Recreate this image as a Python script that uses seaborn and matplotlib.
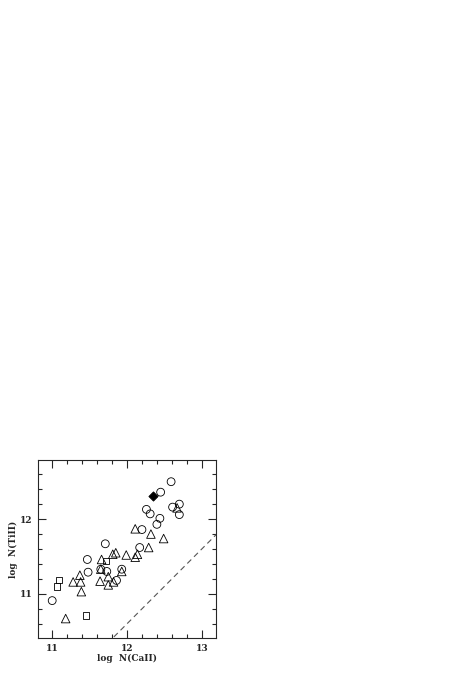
import numpy as np
import pandas as pd
import matplotlib
matplotlib.use("Agg")
import matplotlib.pyplot as plt
import seaborn as sns
from matplotlib.ticker import MultipleLocator

# --- Données ---
circ_x = [11.00, 11.47, 11.48, 11.71, 11.65, 11.73, 11.86, 11.93, 12.17, 12.20,
          12.26, 12.31, 12.40, 12.44, 12.45, 12.59, 12.61, 12.70, 12.70]
circ_y = [10.91, 11.46, 11.29, 11.67, 11.33, 11.30, 11.18, 11.33, 11.62, 11.86,
          12.13, 12.07, 11.93, 12.01, 12.36, 12.50, 12.16, 12.20, 12.06]

tri_x = [11.18, 11.28, 11.37, 11.38, 11.39, 11.64, 11.65, 11.66, 11.75, 11.75,
         11.81, 11.85, 11.82, 11.93, 11.99, 12.11, 12.14, 12.11, 12.32, 12.29,
         12.49, 12.67]
tri_y = [10.67, 11.16, 11.25, 11.16, 11.03, 11.17, 11.33, 11.46, 11.23, 11.12,
         11.53, 11.55, 11.16, 11.30, 11.52, 11.49, 11.53, 11.87, 11.80, 11.62,
         11.74, 12.15]

sq_x = [11.06, 11.09, 11.45, 11.72]
sq_y = [11.10, 11.19, 10.71, 11.44]

star_x = [12.35]
star_y = [12.31]

# droite N(TiII) = N(CaII) - 1.4 (en log)
line_x = [10.8, 13.2]
line_offset = -1.4

df_c = pd.DataFrame({"CaII": circ_x, "TiII": circ_y})
df_t = pd.DataFrame({"CaII": tri_x, "TiII": tri_y})
df_s = pd.DataFrame({"CaII": sq_x, "TiII": sq_y})
df_d = pd.DataFrame({"CaII": star_x, "TiII": star_y})

sns.set_style("ticks")
plt.rcParams["font.family"] = ["DejaVu Serif"]

fig = plt.figure(figsize=(4.69, 6.76), dpi=100)
ax = fig.add_axes([0.081, 0.0562, 0.3795, 0.2633])

sns.scatterplot(data=df_c, x="CaII", y="TiII", marker="o", s=32,
                facecolor="none", edgecolor="black", linewidth=0.6, ax=ax)
sns.scatterplot(data=df_t, x="CaII", y="TiII", marker="^", s=38,
                facecolor="none", edgecolor="black", linewidth=0.6, ax=ax)
sns.scatterplot(data=df_s, x="CaII", y="TiII", marker="s", s=20,
                facecolor="none", edgecolor="black", linewidth=0.6, ax=ax)
sns.scatterplot(data=df_d, x="CaII", y="TiII", marker="D", s=22,
                color="black", edgecolor="black", linewidth=0.6, ax=ax)

lx = np.array(line_x)
ax.plot(lx, lx + line_offset, color="#555555", lw=0.8, ls=(0, (5, 3.5)))

ax.set_xlim(10.81, 13.19)
ax.set_ylim(10.41, 12.79)
ax.xaxis.set_major_locator(MultipleLocator(1))
ax.xaxis.set_minor_locator(MultipleLocator(0.2))
ax.yaxis.set_major_locator(MultipleLocator(1))
ax.yaxis.set_minor_locator(MultipleLocator(0.2))
ax.tick_params(which="both", direction="in", top=True, right=True,
               width=0.8, labelsize=6.5)
ax.tick_params(which="major", length=6, pad=4)
ax.tick_params(which="minor", length=3)
for lab in ax.get_xticklabels() + ax.get_yticklabels():
    lab.set_fontweight("bold")
for sp in ax.spines.values():
    sp.set_linewidth(0.8)

ax.set_xlabel("log  N(CaII)", fontsize=6.5, fontweight="bold", labelpad=1)
ax.set_ylabel("log  N(TiII)", fontsize=6.5, fontweight="bold", labelpad=1)

fig.savefig("out.png", dpi=100)
